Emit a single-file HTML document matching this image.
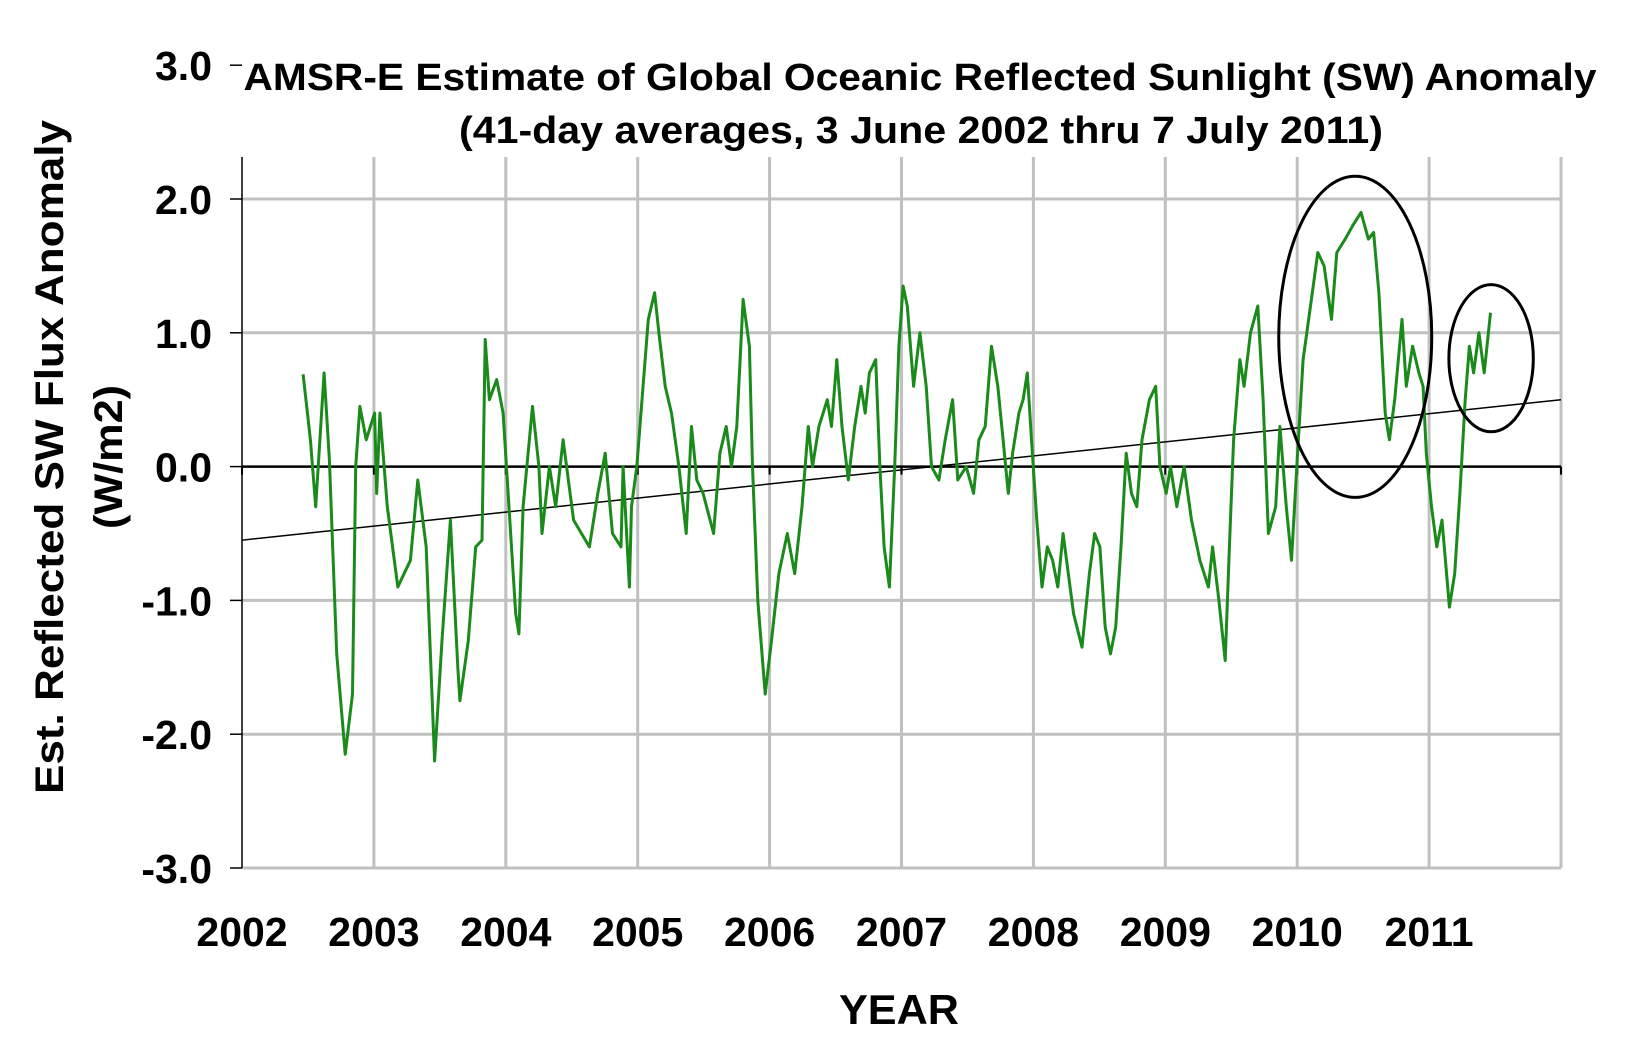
<!DOCTYPE html>
<html><head><meta charset="utf-8"><style>
body{margin:0;background:#fff;}
svg{display:block;font-family:"Liberation Sans",Arial,sans-serif;font-weight:bold;}
</style></head><body>
<svg width="1650" height="1050" viewBox="0 0 1650 1050" id="chart">
<text x="920" y="90" font-size="38" text-anchor="middle" textLength="1353" lengthAdjust="spacingAndGlyphs">AMSR-E Estimate of Global Oceanic Reflected Sunlight (SW) Anomaly</text>
<text x="921" y="143" font-size="38" text-anchor="middle" textLength="924" lengthAdjust="spacingAndGlyphs">(41-day averages, 3 June 2002 thru 7 July 2011)</text>
<text transform="translate(63,457) rotate(-90)" font-size="40" text-anchor="middle" textLength="674" lengthAdjust="spacingAndGlyphs">Est. Reflected SW Flux Anomaly</text>
<text transform="translate(122,457) rotate(-90)" font-size="40" text-anchor="middle" textLength="144" lengthAdjust="spacingAndGlyphs">(W/m2)</text>
<text x="899" y="1024" font-size="42" text-anchor="middle" textLength="120" lengthAdjust="spacingAndGlyphs">YEAR</text>
<g id="grid"></g><g id="marks"></g><g id="labels"></g>
</svg>
<script>
const years=[2002,2003,2004,2005,2006,2007,2008,2009,2010,2011,2012];
const yTicks=[3,2,1,0,-1,-2,-3];
const yTickLabels=["3.0","2.0","1.0","0.0","-1.0","-2.0","-3.0"];
const seriesX=[288,295,300,308,313,320,328,335,338,342,348,356,358,361,368,378,390,397,405,413,420,428,435,437,445,452,458,461,465,472,478,482,490,493,497,506,512,515,522,528,535,545,560,568,575,582,590,592,598,600,605,610,616,622,626,632,638,645,652,657,662,668,678,684,690,695,700,706,712,715,720,727,733,740,748,755,762,768,772,778,786,790,795,800,806,812,818,822,826,832,836,840,845,850,854,858,862,868,874,880,885,892,898,905,910,918,925,930,936,942,948,953,958,962,968,972,976,980,985,990,995,1000,1005,1010,1015,1020,1028,1035,1040,1045,1050,1055,1060,1065,1070,1075,1080,1085,1092,1098,1102,1108,1112,1118,1125,1132,1140,1148,1152,1158,1164,1168,1172,1178,1182,1188,1195,1200,1205,1212,1216,1222,1227,1232,1238,1245,1252,1258,1265,1270,1278,1285,1293,1300,1305,1310,1316,1320,1325,1332,1336,1342,1348,1352,1355,1360,1365,1370,1377,1382,1387,1392,1396,1400,1405,1410,1416];
const seriesYears=seriesX.map(x=>2002+(x-230)/125.3);
const seriesValues=[0.69,0.2,-0.3,0.7,0.05,-1.4,-2.15,-1.7,0.0,0.45,0.2,0.4,-0.2,0.4,-0.3,-0.9,-0.7,-0.1,-0.6,-2.2,-1.3,-0.4,-1.5,-1.75,-1.3,-0.6,-0.55,0.95,0.5,0.65,0.4,-0.1,-1.1,-1.25,-0.3,0.45,0.0,-0.5,0.0,-0.3,0.2,-0.4,-0.6,-0.2,0.1,-0.5,-0.6,0.0,-0.9,-0.3,0.0,0.5,1.1,1.3,1.0,0.6,0.4,0.0,-0.5,0.3,-0.1,-0.2,-0.5,0.1,0.3,0.0,0.3,1.25,0.9,0.0,-1.0,-1.7,-1.3,-0.8,-0.5,-0.8,-0.3,0.3,0.0,0.3,0.5,0.3,0.8,0.3,-0.1,0.3,0.6,0.4,0.7,0.8,0.0,-0.6,-0.9,0.0,0.9,1.35,1.2,0.6,1.0,0.6,0.0,-0.1,0.2,0.5,-0.1,0.0,-0.2,0.2,0.3,0.9,0.6,0.2,-0.2,0.1,0.4,0.5,0.7,0.2,-0.4,-0.9,-0.6,-0.7,-0.9,-0.5,-0.8,-1.1,-1.35,-0.8,-0.5,-0.6,-1.2,-1.4,-1.2,-0.6,0.1,-0.2,-0.3,0.2,0.5,0.6,0.0,-0.2,0.0,-0.3,0.0,-0.4,-0.7,-0.9,-0.6,-1.0,-1.45,-0.6,0.2,0.8,0.6,1.0,1.2,0.5,-0.5,-0.3,0.3,-0.3,-0.7,0.0,0.8,1.2,1.6,1.5,1.1,1.6,1.7,1.8,1.9,1.7,1.75,1.3,0.4,0.2,0.5,1.1,0.6,0.9,0.7,0.6,0.1,-0.3,-0.6,-0.4,-1.05,-0.8,-0.2,0.5,0.9,0.7,1.0,0.7,1.15];
const trendYears=[2002,2012];
const trendValues=[-0.55,0.5];
const ellipses=[{cx:2010.44,cy:0.97,rx:0.58,ry:1.2},{cx:2011.47,cy:0.81,rx:0.32,ry:0.55}];

const NS="http://www.w3.org/2000/svg";
const X0=242,PX=131.9,Y0=466.6,PY=133.8;
const sx=y=>X0+(y-2002)*PX, sy=v=>Y0-v*PY;
const grid=document.getElementById('grid'),marks=document.getElementById('marks'),labels=document.getElementById('labels');
function mk(tag,attrs,parent){const e=document.createElementNS(NS,tag);for(const k in attrs)e.setAttribute(k,attrs[k]);parent.appendChild(e);return e;}
const plotTop=157;
years.forEach((yr,i)=>{
 if(i>0){const l=mk('line',{x1:sx(yr),x2:sx(yr),y1:plotTop,y2:sy(-3),stroke:'#c0c0c0','stroke-width':3},grid);
 
 }
 if(i<years.length-1){const t=mk('text',{x:sx(yr),y:946,'font-size':41,'text-anchor':'middle'},labels);t.textContent=yr;
 
 }
 const tk=mk('line',{x1:sx(yr),x2:sx(yr),y1:Y0,y2:Y0+8,stroke:'#000','stroke-width':2},grid);
 
 
});
yTicks.forEach((v,i)=>{
 if(v<3&&v!==0){const l=mk('line',{x1:X0,x2:sx(2012),y1:sy(v),y2:sy(v),stroke:'#c0c0c0','stroke-width':3},grid);
 
 }
 const tk=mk('line',{x1:X0-12,x2:X0,y1:sy(v),y2:sy(v),stroke:'#000','stroke-width':1.5},grid);
 
 
 const t=mk('text',{x:212,y:sy(v)+15,'font-size':41,'text-anchor':'end'},labels);t.textContent=yTickLabels[i];
 
 
});
const ax=mk('line',{x1:X0,x2:X0,y1:plotTop,y2:sy(-3),stroke:'#000','stroke-width':1.5},grid);


const zl=mk('line',{x1:X0,x2:sx(2012),y1:Y0,y2:Y0,stroke:'#000','stroke-width':2.5},grid);


const tr=mk('line',{x1:sx(trendYears[0]),y1:sy(trendValues[0]),x2:sx(trendYears[1]),y2:sy(trendValues[1]),stroke:'#000','stroke-width':1.5},marks);


const pts=seriesYears.map((y,i)=>sx(y).toFixed(1)+','+sy(seriesValues[i]).toFixed(1)).join(' ');
const pl=mk('polyline',{points:pts,fill:'none',stroke:'#1a8a1a','stroke-width':3,'stroke-linejoin':'round'},marks);


ellipses.forEach(e=>{
 const el=mk('ellipse',{cx:sx(e.cx),cy:sy(e.cy),rx:e.rx*PX,ry:e.ry*PY,fill:'none',stroke:'#000','stroke-width':3},marks);
 
 
});
</script>
</body></html>
